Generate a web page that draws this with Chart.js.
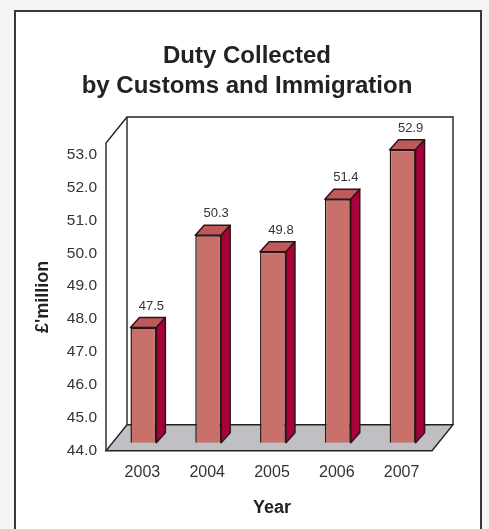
<!DOCTYPE html>
<html>
<head>
<meta charset="utf-8">
<script src="https://cdn.jsdelivr.net/npm/chart.js@4/dist/chart.umd.min.js"></script>
<style>
html,body{margin:0;padding:0;background:#f5f5f5;width:489px;height:529px;overflow:hidden;}
#frame{position:absolute;left:14px;top:10px;width:464px;height:540px;border:2px solid #383838;border-bottom:none;background:#fff;}
#wrap{position:absolute;left:0;top:0;width:489px;height:529px;}
</style>
</head>
<body>
<div id="frame"></div>
<div id="wrap"><canvas id="c" width="489" height="529"></canvas></div>
<script>
// ===== DATA =====
const years = ["2003","2004","2005","2006","2007"];
const duty = [47.5, 50.3, 49.8, 51.4, 52.9];
const yTicks = [44,45,46,47,48,49,50,51,52,53];
const yMin = 44, yMax = 53.35;

// ===== STYLE =====
const FONT = "'Liberation Sans', Arial, sans-serif";
const frontCol = "#c8716a", topCol = "#c05a5a", sideCol = "#a8003a", edgeCol = "#2a1616";
const wallDX = 21, wallDY = -26;   // depth of floor/walls
const barDX = 9, barDY = -10;      // depth of each bar
const shiftX = 1, shiftY = -8;     // bars sit back from the front plane

// ===== 3D PLUGIN =====
const box3d = {
  id: "box3d",
  beforeDatasetsDraw(chart){
    const ctx = chart.ctx, ca = chart.chartArea, y = chart.scales.y;
    const y0 = y.getPixelForValue(yMin), yt = y.getPixelForValue(yMax);
    const fl = ca.left - 4, fr = ca.right - 2;
    ctx.save();
    ctx.lineWidth = 1.4; ctx.strokeStyle = "#222";
    // floor
    ctx.beginPath();
    ctx.moveTo(fl, y0); ctx.lineTo(fr, y0); ctx.lineTo(fr + wallDX, y0 + wallDY); ctx.lineTo(fl + wallDX, y0 + wallDY); ctx.closePath();
    ctx.fillStyle = "#c0c0c4"; ctx.fill(); ctx.stroke();
    // back wall
    ctx.beginPath();
    ctx.moveTo(fl + wallDX, y0 + wallDY); ctx.lineTo(fl + wallDX, yt + wallDY);
    ctx.lineTo(fr + wallDX, yt + wallDY); ctx.lineTo(fr + wallDX, y0 + wallDY);
    ctx.stroke();
    // side wall
    ctx.beginPath();
    ctx.moveTo(fl, y0); ctx.lineTo(fl, yt); ctx.lineTo(fl + wallDX, yt + wallDY);
    ctx.stroke();
    ctx.restore();
    ctx.save();
    ctx.translate(shiftX, shiftY);
  },
  afterDatasetsDraw(chart){
    const ctx = chart.ctx;
    const meta = chart.getDatasetMeta(0);
    ctx.lineWidth = 1.5; ctx.strokeStyle = edgeCol; ctx.lineJoin = "round";
    meta.data.forEach((bar, i) => {
      const p = bar.getProps(["x","y","base","width"], true);
      const l = p.x - p.width/2, r = p.x + p.width/2;
      // top face
      ctx.beginPath();
      ctx.moveTo(l, p.y); ctx.lineTo(r, p.y); ctx.lineTo(r + barDX, p.y + barDY); ctx.lineTo(l + barDX, p.y + barDY); ctx.closePath();
      ctx.fillStyle = topCol; ctx.fill(); ctx.stroke();
      // side face
      ctx.beginPath();
      ctx.moveTo(r, p.y); ctx.lineTo(r + barDX, p.y + barDY); ctx.lineTo(r + barDX, p.base + barDY); ctx.lineTo(r, p.base); ctx.closePath();
      ctx.fillStyle = sideCol; ctx.fill(); ctx.stroke();
      // value label
      ctx.fillStyle = "#333"; ctx.font = "13px " + FONT;
      ctx.textAlign = "center"; ctx.textBaseline = "alphabetic";
      ctx.fillText(duty[i].toFixed(1), p.x + 8, p.y + barDY - 8);
    });
    ctx.restore();
  }
};

// ===== CHART =====
new Chart(document.getElementById("c"), {
  type: "bar",
  data: {
    labels: years,
    datasets: [{
      data: duty,
      base: yMin,
      backgroundColor: frontCol,
      borderColor: edgeCol,
      borderWidth: 1.5,
      barPercentage: 0.4,
      categoryPercentage: 1,
      clip: false
    }]
  },
  options: {
    responsive: false,
    animation: false,
    events: [],
    layout: { padding: { left: 5, right: 0, top: 0, bottom: 0 } },
    plugins: {
      legend: { display: false },
      tooltip: { enabled: false },
      title: {
        display: true,
        text: ["Duty Collected", "by Customs and Immigration"],
        color: "#222",
        font: { family: FONT, size: 24, weight: "bold", lineHeight: 1.25 },
        padding: { top: 41, bottom: 42 }
      }
    },
    scales: {
      x: {
        grid: { display: false, drawTicks: false },
        border: { display: false },
        ticks: { color: "#333", padding: 12, font: { family: FONT, size: 16 } },
        title: { display: true, text: "Year", color: "#222", padding: 10, font: { family: FONT, size: 18, weight: "bold" } },
        afterFit(s){ s.height = 78.3; }
      },
      y: {
        min: yMin, max: yMax,
        grid: { display: false, drawTicks: false },
        border: { display: false },
        afterBuildTicks(s){ s.ticks = yTicks.map(v => ({ value: v })); },
        ticks: { color: "#333", padding: 13, font: { family: FONT, size: 15.5 }, callback: v => Number(v).toFixed(1) },
        title: { display: true, text: "£'million", color: "#222", padding: 27, font: { family: FONT, size: 18, weight: "bold" } },
        afterFit(s){ s.width = 105; }
      },
      y2: {
        position: "right",
        grid: { display: false, drawTicks: false },
        border: { display: false },
        ticks: { display: false },
        afterFit(s){ s.width = 55; }
      }
    }
  },
  plugins: [box3d]
});
</script>
</body>
</html>
